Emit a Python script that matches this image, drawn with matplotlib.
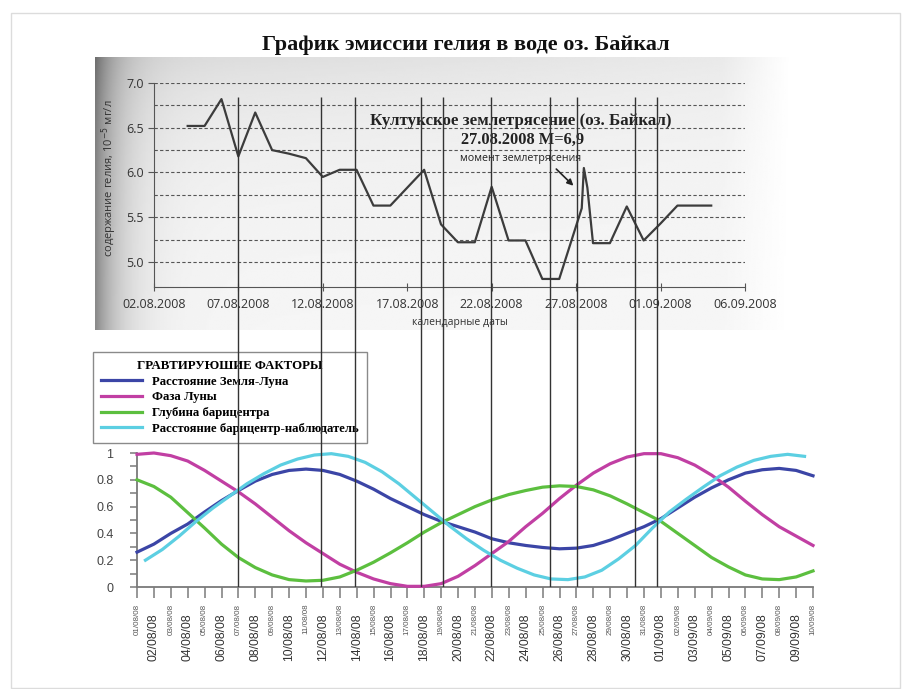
import matplotlib
matplotlib.use('Agg')
import matplotlib.pyplot as plt
import numpy as np
import pandas as pd
from matplotlib.patches import Rectangle

# ---- data -------------------------------------------------------------
title = 'График эмиссии гелия в воде оз. Байкал'

# helium content, 10^-5 mg/l (top chart)
he_times = ['2008-08-04 00:00', '2008-08-05 00:00', '2008-08-06 00:00', '2008-08-07 00:00',
            '2008-08-08 00:00', '2008-08-09 00:00', '2008-08-10 00:00', '2008-08-11 00:00',
            '2008-08-12 00:00', '2008-08-13 00:00', '2008-08-14 00:00', '2008-08-15 00:00',
            '2008-08-16 00:00', '2008-08-17 00:00', '2008-08-18 00:00', '2008-08-19 00:00',
            '2008-08-20 00:00', '2008-08-21 00:00', '2008-08-22 00:00', '2008-08-23 00:00',
            '2008-08-24 00:00', '2008-08-25 00:00', '2008-08-26 00:00', '2008-08-27 08:00',
            '2008-08-27 11:00', '2008-08-27 16:00', '2008-08-28 00:00', '2008-08-29 00:00',
            '2008-08-30 00:00', '2008-08-31 00:00', '2008-09-01 00:00', '2008-09-02 00:00',
            '2008-09-03 00:00', '2008-09-04 00:00']
he_values = [6.52, 6.52, 6.82, 6.18, 6.67, 6.25, 6.21, 6.16, 5.95, 6.03,
             6.03, 5.63, 5.63, 5.83, 6.03, 5.42, 5.22, 5.22, 5.84, 5.24,
             5.24, 4.81, 4.81, 5.60, 6.05, 5.83, 5.21, 5.21, 5.62, 5.24,
             5.43, 5.63, 5.63, 5.63]
top_ticks = ['2008-08-02', '2008-08-07', '2008-08-12', '2008-08-17', '2008-08-22',
             '2008-08-27', '2008-09-01', '2008-09-06']

# gravitational factors (bottom chart), daily 01/08/08 .. 10/09/08
days = pd.date_range('2008-08-01', '2008-09-10', freq='D')
earth_moon = [0.26, 0.32, 0.40, 0.47, 0.56, 0.645, 0.72, 0.79, 0.84, 0.87,
              0.88, 0.87, 0.84, 0.79, 0.73, 0.66, 0.60, 0.54, 0.49, 0.45,
              0.41, 0.36, 0.33, 0.31, 0.295, 0.285, 0.29, 0.31, 0.35, 0.40,
              0.45, 0.51, 0.59, 0.67, 0.74, 0.80, 0.85, 0.875, 0.885, 0.87,
              0.83]
moon_phase = [0.99, 1.0, 0.98, 0.94, 0.87, 0.79, 0.71, 0.62, 0.52, 0.42,
              0.33, 0.25, 0.17, 0.11, 0.06, 0.025, 0.005, 0.005, 0.025, 0.08,
              0.16, 0.25, 0.34, 0.45, 0.55, 0.66, 0.76, 0.85, 0.92, 0.97,
              0.995, 0.995, 0.965, 0.91, 0.835, 0.745, 0.64, 0.54, 0.45, 0.38,
              0.31]
bary_depth = [0.80, 0.75, 0.67, 0.555, 0.44, 0.32, 0.22, 0.145, 0.09, 0.055,
              0.045, 0.05, 0.075, 0.125, 0.185, 0.255, 0.33, 0.41, 0.48, 0.54,
              0.60, 0.65, 0.69, 0.72, 0.745, 0.755, 0.75, 0.725, 0.68, 0.62,
              0.555, 0.49, 0.40, 0.31, 0.22, 0.15, 0.09, 0.06, 0.055, 0.075,
              0.12]
# barycentre-observer distance is given at mid-day points
bary_obs_times = pd.date_range('2008-08-01 12:00', '2008-09-09 12:00', freq='D')
bary_obs = [0.20, 0.28, 0.38, 0.49, 0.59, 0.68, 0.77, 0.845, 0.91, 0.955,
            0.985, 0.995, 0.975, 0.93, 0.86, 0.77, 0.665, 0.56, 0.455, 0.36,
            0.275, 0.20, 0.14, 0.09, 0.06, 0.055, 0.075, 0.125, 0.21, 0.31,
            0.44, 0.56, 0.655, 0.745, 0.83, 0.895, 0.945, 0.975, 0.99, 0.975]

series_labels = ['Расстояние Земля-Луна', 'Фаза Луны', 'Глубина барицентра',
                 'Расстояние барицентр-наблюдатель']
series_colors = ['#3b45a6', '#c13fa3', '#5cbf3f', '#5ccfe2']

# moments marked with vertical lines
events = ['2008-08-07 00:00', '2008-08-11 21:00', '2008-08-13 22:00',
          '2008-08-17 19:00', '2008-08-19 02:00', '2008-08-21 23:00',
          '2008-08-25 10:00', '2008-08-27 01:00', '2008-08-30 11:00',
          '2008-08-31 19:00']

# ---- figure -----------------------------------------------------------
W, H = 904, 689
fig = plt.figure(figsize=(W / 100, H / 100), dpi=100)
fig.patch.set_facecolor('white')


def px_box(x0, y0, x1, y1):
    return [x0 / W, 1 - y1 / H, (x1 - x0) / W, (y1 - y0) / H]


fig.patches.append(Rectangle((11 / W, 1 / H), (900 - 11) / W, (688 - 13) / H,
                             transform=fig.transFigure, fill=False,
                             ec='#dcdcdc', lw=1.0))

# scanned-looking background of the upper chart
bg = fig.add_axes(px_box(95, 57, 792, 330))
xx = np.linspace(0, 1, 400)[None, :]
yy = np.linspace(0, 1, 150)[:, None]
shade = 0.965 - 0.42 * np.exp(-xx / 0.035) - 0.11 * np.exp(-yy / 0.3) * (1 - 0.6 * xx)
shade = shade + (1 - shade) * np.clip((xx - 0.9) / 0.1, 0, 1)
bg.imshow(shade, cmap='gray', vmin=0, vmax=1, aspect='auto', interpolation='bilinear')
bg.axis('off')

fig.text(466 / W, 1 - 45 / H, title, ha='center', va='center',
         family='Liberation Serif', weight='bold', fontsize=16, color='#111')

# ---- top chart: helium ---------------------------------------------------
ax1 = fig.add_axes(px_box(153.9, 83, 745, 287))
ax1.patch.set_alpha(0)
he_x = pd.to_datetime(he_times, format='%Y-%m-%d %H:%M')
ax1.plot(he_x, he_values, color='#3c3c3c', lw=1.6, zorder=3)
tick_dates = pd.to_datetime(top_ticks)
ax1.set_xlim(tick_dates[0], tick_dates[-1])
ax1.set_ylim(4.72, 7.0)
ax1.set_xticks(tick_dates)
ax1.set_xticklabels([d.strftime('%d.%m.%Y') for d in tick_dates],
                    family='Open Sans', fontsize=9, color='#333')
ax1.set_yticks(np.arange(5.0, 7.01, 0.5))
ax1.set_yticklabels(['%.1f' % v for v in np.arange(5.0, 7.01, 0.5)],
                    family='Open Sans', fontsize=9, color='#333')
ax1.set_yticks(np.arange(5.0, 7.01, 0.25), minor=True)
ax1.grid(axis='y', which='both', ls=(0, (3, 2)), color='#555', lw=0.8)
for s in ['top', 'right']:
    ax1.spines[s].set_visible(False)
for s in ['left', 'bottom']:
    ax1.spines[s].set_color('#555')
ax1.tick_params(axis='x', direction='inout', length=6, color='#555', pad=5)
ax1.tick_params(axis='y', which='major', length=4, color='#555', pad=3)
ax1.tick_params(axis='y', which='minor', length=0)
ax1.set_xlabel('календарные даты', family='Open Sans', fontsize=7.5, color='#333')
ax1.xaxis.set_label_coords((460 - 153.9) / 591.1, -(317 - 287) / 204)
ax1.set_ylabel('содержание гелия, 10$^{-5}$ мг/л', family='Open Sans',
               fontsize=8, color='#333')
ax1.yaxis.set_label_coords((119 - 153.9) / 591.1, 1 - (178 - 83) / 204)

ax1.text(0.621, 0.815, 'Култукское землетрясение (оз. Байкал)', transform=ax1.transAxes,
         ha='center', va='center', family='Liberation Serif', weight='bold',
         fontsize=12.2, color='#222')
ax1.text(0.624, 0.72, '27.08.2008 M=6,9', transform=ax1.transAxes,
         ha='center', va='center', family='Liberation Serif', weight='bold',
         fontsize=11.8, color='#222')
ax1.text(0.621, 0.632, 'момент землетрясения', transform=ax1.transAxes,
         ha='center', va='center', family='Open Sans', fontsize=7.7, color='#222')
ax1.annotate('', xy=(pd.Timestamp('2008-08-26 23:00'), 5.83),
             xytext=(pd.Timestamp('2008-08-25 17:00'), 6.06),
             arrowprops=dict(arrowstyle='-|>', color='#222', lw=1.2,
                             mutation_scale=9))

# ---- bottom chart: gravitational factors --------------------------------
ax2 = fig.add_axes(px_box(137, 453, 813, 587))
ax2.patch.set_alpha(0)
lines = []
for xs, ys, lab, col in zip([days, days, days, bary_obs_times],
                            [earth_moon, moon_phase, bary_depth, bary_obs],
                            series_labels, series_colors):
    ln, = ax2.plot(xs, ys, color=col, lw=2.3, label=lab, clip_on=False, zorder=3)
    lines.append(ln)
ax2.set_xlim(days[0], days[-1])
ax2.set_ylim(0, 1)
ax2.set_yticks(np.arange(0, 1.01, 0.2))
ax2.set_yticklabels(['0', '0.2', '0.4', '0.6', '0.8', '1'], family='Liberation Sans',
                    fontsize=9, color='#444')
ax2.set_yticks(np.arange(0, 1.01, 0.1), minor=True)
ax2.set_xticks(days)
ax2.set_xticklabels([d.strftime('%d/%m/%y') for d in days], rotation=90,
                    family='Liberation Sans')
for s in ['top', 'right']:
    ax2.spines[s].set_visible(False)
for s in ['left', 'bottom']:
    ax2.spines[s].set_color('#7a7a7a')
    ax2.spines[s].set_linewidth(1.3)
ax2.tick_params(axis='y', which='both', length=5, width=1.1, color='#7a7a7a', pad=12)
ax2.tick_params(axis='x', length=8, width=1.1, color='#7a7a7a')
for i, tk in enumerate(ax2.xaxis.get_major_ticks()):
    if i % 2 == 1:
        tk.set_pad(11)
        tk.label1.set_fontsize(8.7)
        tk.label1.set_color('#333')
    else:
        tk.set_pad(4)
        tk.label1.set_fontsize(5.8)
        tk.label1.set_color('#555')

leg = ax2.legend(lines, series_labels, loc='upper left',
                 bbox_to_anchor=(93 / W, 1 - 352 / H), bbox_transform=fig.transFigure,
                 borderaxespad=0, title='ГРАВТИРУЮШИЕ ФАКТОРЫ',
                 prop={'family': 'Liberation Serif', 'weight': 'bold', 'size': 9.2},
                 title_fontproperties={'family': 'Liberation Serif', 'weight': 'bold',
                                       'size': 9.3},
                 fancybox=False, framealpha=1, edgecolor='#8a8a8a',
                 handlelength=3.2, handletextpad=0.8, labelspacing=0.28,
                 borderpad=0.65)
leg.get_frame().set_linewidth(1.0)

# ---- vertical marker lines through both charts ----------------------------
ov = fig.add_axes(px_box(137, 97, 813, 587))
ov.patch.set_alpha(0)
ov.vlines(pd.to_datetime(events, format='%Y-%m-%d %H:%M'), 0, 1, color='#333', lw=1.0)
ov.set_xlim(days[0], days[-1])
ov.set_ylim(0, 1)
ov.axis('off')

fig.savefig('out.png', dpi=100, facecolor='white')
